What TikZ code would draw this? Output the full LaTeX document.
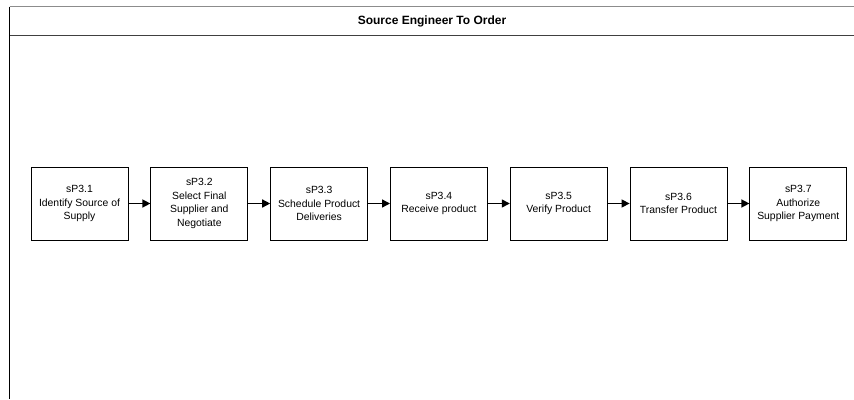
\documentclass[tikz,border=0pt]{standalone}
\usepackage{fontspec}
\setmainfont{Liberation Sans}
\usetikzlibrary{positioning,arrows.meta}

\begin{document}
\begin{tikzpicture}[
    x=1pt, y=1pt,
    node distance=22pt,
    proc/.style={draw=black, line width=0.8pt, fill=white, minimum width=97pt, minimum height=73pt, inner sep=0pt, align=center, font=\fontsize{10.4}{13.6}\selectfont},
    arr/.style={-{Triangle[length=8pt, width=8pt]}, line width=1.4pt, draw=black},
    frame/.style={line width=0.8pt}
]
    \useasboundingbox[fill=white] (0,0) rectangle (854,-399);

    % pool header
    \draw[frame, draw=black!45] (9.5,-6.5) -- (854,-6.5);
    \draw[frame, line width=1.3pt, draw=black!75] (9.5,-35.5) -- (854,-35.5);
    \draw[frame] (9.5,-6.5) -- (9.5,-399);
    \node[font=\fontsize{12}{14}\selectfont\bfseries] (title) at (432,-21) {Source Engineer To Order};

    % process steps
    \node[proc] (s1) at (79.5,-203.5) {sP3.1\\Identify Source of\\Supply};
    \node[proc, right=of s1] (s2) {sP3.2\\Select Final\\Supplier and\\Negotiate};
    \node[proc, right=of s2] (s3) {sP3.3\\Schedule Product\\Deliveries};
    \node[proc, right=of s3] (s4) {sP3.4\\Receive product};
    \node[proc, right=of s4] (s5) {sP3.5\\Verify Product};
    \node[proc, right=of s5] (s6) {sP3.6\\Transfer Product};
    \node[proc, right=of s6] (s7) {sP3.7\\Authorize\\Supplier Payment};

    \draw[arr] (s1) -- (s2);
    \draw[arr] (s2) -- (s3);
    \draw[arr] (s3) -- (s4);
    \draw[arr] (s4) -- (s5);
    \draw[arr] (s5) -- (s6);
    \draw[arr] (s6) -- (s7);
\end{tikzpicture}
\end{document}
